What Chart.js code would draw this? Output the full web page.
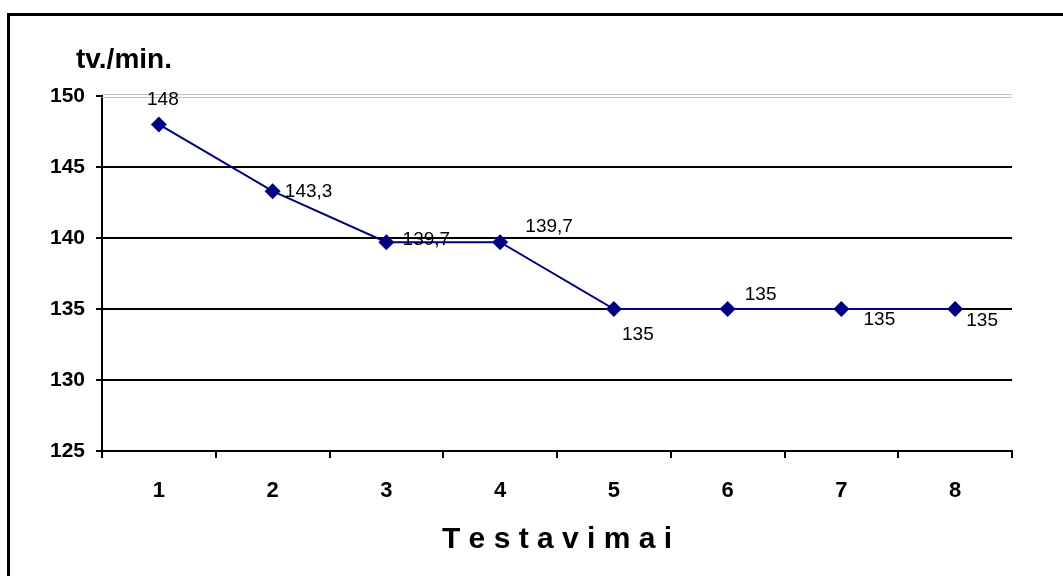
<!DOCTYPE html>
<html>
<head>
<meta charset="utf-8">
<script src="https://cdn.jsdelivr.net/npm/chart.js@4/dist/chart.umd.min.js"></script>
<style>
  html, body { margin: 0; padding: 0; background: #ffffff; }
  canvas { display: block; }
</style>
</head>
<body>
<canvas id="pulse" width="1063" height="576"></canvas>
<script>
// Heart rate over successive tests
const categories = ['1', '2', '3', '4', '5', '6', '7', '8'];
const pulseValues = [148, 143.3, 139.7, 139.7, 135, 135, 135, 135];
const yTicks = [125, 130, 135, 140, 145, 150];
const yAxisTitle = 'tv./min.';
const xAxisTitle = 'T e s t a v i m a i';

// Where each value label sits relative to its marker (dx, dy in px)
const labelOffsets = [[4, -25], [36, 1], [40, -2], [49, -15], [24, 26], [33, -14], [38, 11], [27, 12]];

const FONT = "'Liberation Sans', Arial, sans-serif";
const NAVY = '#000080';

const formatValue = v => String(v).replace('.', ',');

const frameAndTitles = {
  id: 'frameAndTitles',
  beforeDraw(chart) {
    const ctx = chart.ctx;
    ctx.save();
    ctx.fillStyle = '#ffffff';
    ctx.fillRect(0, 0, chart.width, chart.height);
    // outer frame (top and left edges fall inside the canvas)
    ctx.fillStyle = '#000000';
    ctx.fillRect(7, 13, chart.width - 7, 3);
    ctx.fillRect(7, 13, 3, chart.height - 13);
    // vertical axis caption
    ctx.font = 'bold 28px ' + FONT;
    ctx.textAlign = 'left';
    ctx.textBaseline = 'alphabetic';
    ctx.fillText(yAxisTitle, 76, 68);
    ctx.restore();
  },
  beforeDatasetsDraw(chart) {
    // light double rule at the top of the value range
    const ctx = chart.ctx;
    const y = chart.scales.y.getPixelForValue(yTicks[yTicks.length - 1]);
    const { left, right } = chart.chartArea;
    ctx.save();
    ctx.strokeStyle = '#c0c0c0';
    ctx.lineWidth = 1;
    [y - 2, y + 1].forEach(py => {
      ctx.beginPath();
      ctx.moveTo(left, py + 0.5);
      ctx.lineTo(right, py + 0.5);
      ctx.stroke();
    });
    ctx.restore();
  },
  afterDatasetsDraw(chart) {
    const ctx = chart.ctx;
    const meta = chart.getDatasetMeta(0);
    ctx.save();
    ctx.font = '19px ' + FONT;
    ctx.fillStyle = '#000000';
    ctx.textAlign = 'center';
    ctx.textBaseline = 'middle';
    meta.data.forEach((pt, i) => {
      const [dx, dy] = labelOffsets[i];
      ctx.fillText(formatValue(pulseValues[i]), pt.x + dx, pt.y + dy);
    });
    ctx.restore();
  }
};

new Chart(document.getElementById('pulse'), {
  type: 'line',
  data: {
    labels: categories,
    datasets: [{
      data: pulseValues,
      borderColor: NAVY,
      borderWidth: 2,
      tension: 0,
      pointStyle: 'rectRot',
      pointRadius: 8,
      pointHoverRadius: 8,
      pointBackgroundColor: NAVY,
      pointBorderColor: NAVY,
      pointBorderWidth: 0
    }]
  },
  options: {
    responsive: false,
    animation: false,
    events: [],
    layout: { padding: { top: 96, right: 51, left: 0, bottom: 0 } },
    plugins: {
      legend: { display: false },
      tooltip: { enabled: false }
    },
    scales: {
      x: {
        type: 'category',
        offset: true,
        grid: {
          offset: true,
          drawOnChartArea: false,
          drawTicks: true,
          tickLength: 7,
          color: '#000000',
          lineWidth: 2
        },
        border: { color: '#000000', width: 2 },
        ticks: {
          color: '#000000',
          font: { family: FONT, size: 22, weight: 'bold' },
          padding: 20,
          maxRotation: 0
        },
        title: {
          display: true,
          text: xAxisTitle,
          color: '#000000',
          font: { family: FONT, size: 30, weight: 'bold' },
          padding: { top: 0, bottom: 18 }
        },
        afterFit(scale) { scale.height = 125; }
      },
      y: {
        min: yTicks[0],
        max: yTicks[yTicks.length - 1],
        afterBuildTicks(scale) { scale.ticks = yTicks.map(v => ({ value: v })); },
        grid: {
          color: ctx => (ctx.tick && ctx.tick.value === yTicks[yTicks.length - 1]) ? 'rgba(0,0,0,0)' : '#000000',
          tickColor: '#000000',
          lineWidth: 2,
          tickLength: 6,
          drawTicks: true
        },
        border: { color: '#000000', width: 2 },
        ticks: {
          color: '#000000',
          font: { family: FONT, size: 21, weight: 'bold' },
          padding: 11
        },
        afterFit(scale) { scale.width = 102; }
      }
    }
  },
  plugins: [frameAndTitles]
});
</script>
</body>
</html>
